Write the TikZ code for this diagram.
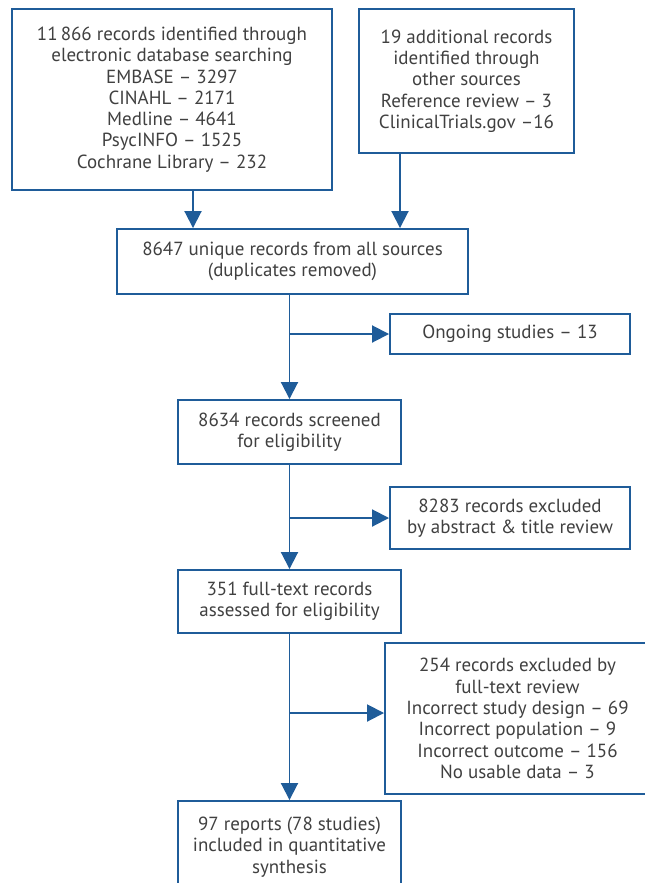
\documentclass[tikz,border=0pt]{standalone}
\usepackage{fontspec}
\setmainfont{PT Sans}
\usepackage{tikz}
\usetikzlibrary{arrows.meta,positioning,calc}
\definecolor{ink}{HTML}{404040}
\definecolor{flowblue}{HTML}{1F5C99}

\begin{document}
\begin{tikzpicture}[
  font=\fontsize{10.8}{12.1}\selectfont, line join=miter,
  box/.style={draw=flowblue, line width=1.1pt, text=ink, align=center,
              inner sep=2pt},
  fl/.style={-{Triangle[length=3.4mm, width=3.4mm]}, flowblue, line width=1.1pt}]

\clip (0,0) rectangle (12.9,-17.66);

\node[box, minimum width=64mm, minimum height=36.2mm] (src) at (3.44,-1.99)
  {11\,866 records identified through\\ electronic database searching\\
   EMBASE -- 3297\\ CINAHL -- 2171\\ Medline -- 4641\\ PsycINFO -- 1525\\
   Cochrane Library -- 232};
\node[box, minimum width=43mm, minimum height=28.8mm] (other) at (9.33,-1.62)
  {19 additional records\\ identified through\\ other sources\\
   Reference review -- 3\\ ClinicalTrials.gov --16};
\node[box, minimum width=70.2mm, minimum height=13mm] (uniq) at (5.85,-5.23)
  {8647 unique records from all sources\\ (duplicates removed)};
\node[box, minimum width=48mm, minimum height=8mm] (ongo) at (10.2,-6.68)
  {Ongoing studies -- 13};
\node[box, minimum width=44.6mm, minimum height=12.8mm] (scr) at (5.79,-8.64)
  {8634 records screened\\ for eligibility};
\node[box, minimum width=48mm, minimum height=12.4mm] (exabs) at (10.2,-10.36)
  {8283 records excluded\\ by abstract \& title review};
\node[box, minimum width=44.6mm, minimum height=12.6mm] (full) at (5.79,-12.03)
  {351 full-text records\\ assessed for eligibility};
\node[box, minimum width=53mm, minimum height=30.2mm] (exfull) at (10.35,-14.37)
  {254 records excluded by\\ full-text review\\ Incorrect study design -- 69\\
   Incorrect population -- 9\\ Incorrect outcome -- 156\\ No usable data -- 3};
\node[box, minimum width=44.6mm, minimum height=18.4mm] (incl) at (5.79,-16.94)
  {97 reports (78 studies)\\ included in quantitative\\ synthesis};

\draw[fl] ([xshift=4.2mm]src.south) -- ([xshift=4.2mm]src.south |- uniq.north);
\draw[fl] ([xshift=-13.3mm]other.south) -- ([xshift=-13.3mm]other.south |- uniq.north);
\draw[fl] (uniq.south -| scr.north) -- (scr.north);
\draw[fl] (scr.south) -- (full.north);
\draw[fl] (full.south) -- (incl.north);
\draw[fl] (ongo.west -| scr.north) -- (ongo.west);
\draw[fl] (exabs.west -| scr.north) -- (exabs.west);
\draw[fl] ([yshift=1.1mm]exfull.west -| scr.north) -- ([yshift=1.1mm]exfull.west);

\end{tikzpicture}
\end{document}
